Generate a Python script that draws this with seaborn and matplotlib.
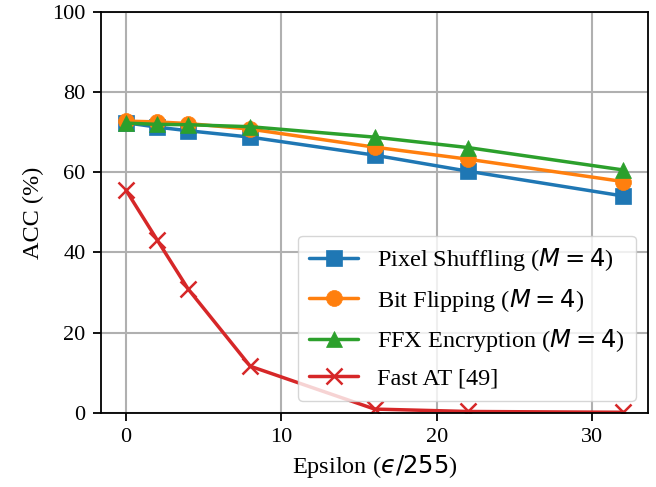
import matplotlib
matplotlib.use("Agg")
import matplotlib.pyplot as plt
import seaborn as sns
import pandas as pd

epsilon = [0, 2, 4, 8, 16, 22, 32]
pixel_shuffling = [72.4, 71.3, 70.4, 68.8, 64.3, 60.3, 54.1]
bit_flipping = [72.8, 72.6, 72.2, 70.8, 66.3, 63.3, 57.7]
ffx_encryption = [72.3, 72.0, 71.9, 71.4, 68.8, 66.2, 60.6]
fast_at = [55.6, 43.2, 30.9, 11.6, 0.9, 0.3, 0.1]

series_names = [
    r"Pixel Shuffling ($M=4$)",
    r"Bit Flipping ($M=4$)",
    r"FFX Encryption ($M=4$)",
    "Fast AT [49]",
]
series_values = [pixel_shuffling, bit_flipping, ffx_encryption, fast_at]

sns.set_theme(style="whitegrid")
plt.rcParams["font.family"] = ["Liberation Serif", "DejaVu Serif"]
plt.rcParams["mathtext.fontset"] = "dejavusans"

fig, ax = plt.subplots(figsize=(6.56, 4.87), dpi=100)
palette = ["#1f77b4", "#ff7f0e", "#2ca02c", "#d62728"]
markers = ["s", "o", "^", "x"]

for name, vals, color, mk in zip(series_names, series_values, palette, markers):
    df = pd.DataFrame({"eps": epsilon, "acc": vals})
    sns.lineplot(
        data=df, x="eps", y="acc", ax=ax, color=color, label=name,
        marker=mk, linewidth=2.5, markersize=11.5,
        markeredgecolor=color,
        markeredgewidth=(1.8 if mk == "x" else 0.5),
    )

ax.set_ylim(0, 100)
ax.set_xlim(-1.6, 33.6)
ax.set_xticks([0, 10, 20, 30])
ax.set_yticks([0, 20, 40, 60, 80, 100])
ax.set_xlabel("Epsilon ($\u03f5/255$)", fontsize=17.5, color="black", labelpad=4)
ax.set_ylabel("ACC (%)", fontsize=17.5, color="black", labelpad=6)
ax.tick_params(axis="both", labelsize=16, length=6, width=1.3, direction="out",
               bottom=True, left=True, color="black", labelcolor="black", pad=5)
for s in ax.spines.values():
    s.set_linewidth(1.3)
    s.set_color("black")
ax.grid(True, linewidth=1.5, color="#b0b0b0")

leg = ax.legend(loc="lower right", fontsize=17.5, framealpha=0.8,
                handlelength=2.0, borderpad=0.45, labelspacing=0.55,
                handletextpad=0.8, borderaxespad=0.5)
for t in leg.get_texts():
    t.set_color("black")

fig.subplots_adjust(left=0.154, right=0.988, top=0.975, bottom=0.1526)
fig.savefig("out.png", dpi=100)
